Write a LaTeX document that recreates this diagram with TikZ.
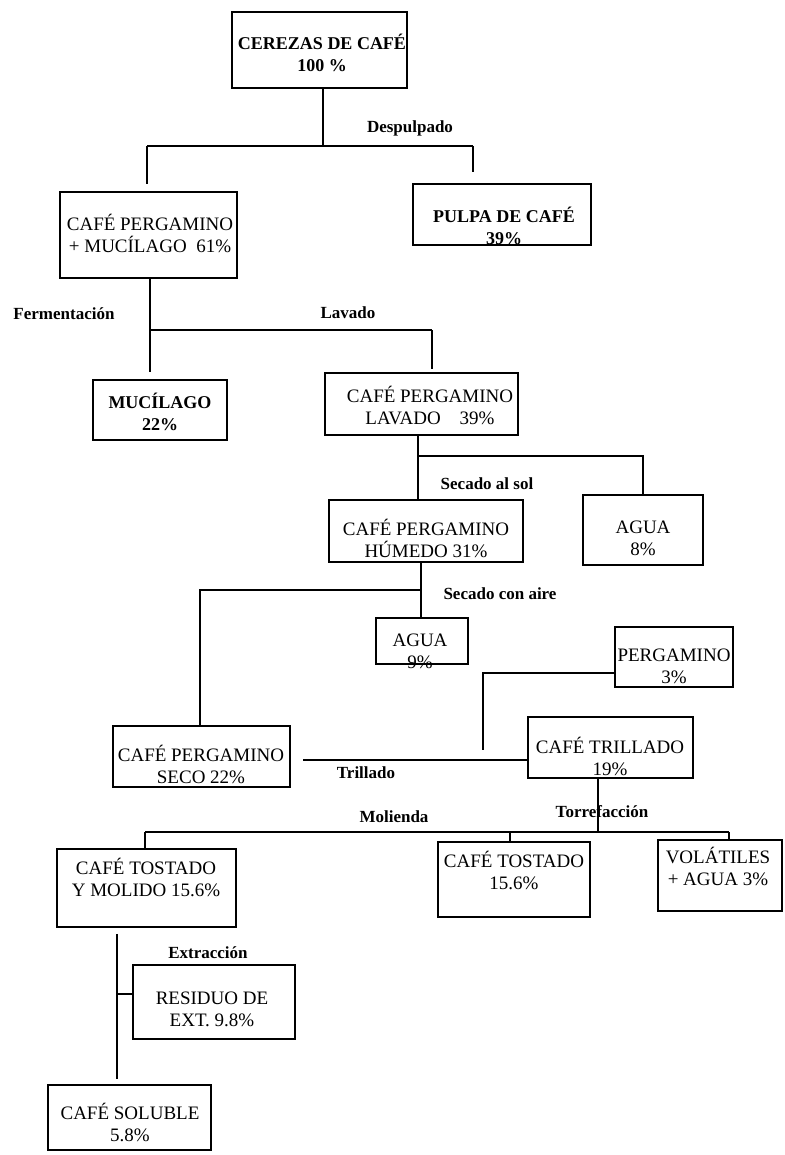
\documentclass[tikz,border=0pt]{standalone}
\usepackage{fontspec}
\setmainfont{Liberation Serif}
\tikzset{
  box/.style={draw, rectangle, line width=1.6pt, inner sep=0pt},
  txt/.style={align=center, inner sep=0pt, font=\fontsize{19}{22}\selectfont},
  btxt/.style={align=center, inner sep=0pt, font=\fontsize{18}{22}\selectfont\bfseries},
  lbl/.style={inner sep=0pt, font=\fontsize{17}{20}\selectfont\bfseries},
  conn/.style={line width=1.6pt}
}
\begin{document}
\begin{tikzpicture}[x=1pt,y=-1pt]
  % page frame
  \fill[white] (0,0) rectangle (784,1155);
  \useasboundingbox (0,0) rectangle (784,1155);

  % ---- boxes ----
  \node[box, minimum width=175pt, minimum height=76pt] (cer)   at (319.5,50)   {};
  \node[box, minimum width=177pt, minimum height=86pt] (pm)    at (148.5,235)  {};
  \node[box, minimum width=178pt, minimum height=61pt] (pulpa) at (502,214.5)  {};
  \node[box, minimum width=134pt, minimum height=60pt] (muc)   at (160,410)    {};
  \node[box, minimum width=193pt, minimum height=62pt] (lav)   at (421.5,404)  {};
  \node[box, minimum width=194pt, minimum height=62pt] (hum)   at (426,531)    {};
  \node[box, minimum width=120pt, minimum height=70pt] (ag8)   at (643,530)    {};
  \node[box, minimum width=92pt,  minimum height=46pt] (ag9)   at (422,641)    {};
  \node[box, minimum width=118pt, minimum height=60pt] (perg)  at (674,657)    {};
  \node[box, minimum width=177pt, minimum height=61pt] (seco)  at (201.5,756.5){};
  \node[box, minimum width=165pt, minimum height=61pt] (tri)   at (610.5,747.5){};
  \node[box, minimum width=179pt, minimum height=78pt] (tym)   at (146.5,888)  {};
  \node[box, minimum width=152pt, minimum height=75pt] (tos)   at (514,879.5)  {};
  \node[box, minimum width=124pt, minimum height=71pt] (vol)   at (720,875.5)  {};
  \node[box, minimum width=162pt, minimum height=74pt] (res)   at (214,1002)   {};
  \node[box, minimum width=163pt, minimum height=65pt] (sol)   at (129.5,1117.5){};

  % ---- box texts ----
  \node[btxt] (cert)   at (322,53)   {CEREZAS DE CAFÉ\\100 \%};
  \node[txt]  (pmt)    at (150,233)  {CAFÉ PERGAMINO\\+ MUCÍLAGO\ \ 61\%};
  \node[btxt] (pulpat) at (504,226)  {PULPA DE CAFÉ\\39\%};
  \node[btxt] (muct)   at (160,412)  {MUCÍLAGO\\22\%};
  \node[txt]  (lavt)   at (430,405)  {CAFÉ PERGAMINO\\LAVADO\quad 39\%};
  \node[txt]  (humt)   at (426,538)  {CAFÉ PERGAMINO\\HÚMEDO 31\%};
  \node[txt]  (ag8t)   at (643,538)  {AGUA\\8\%};
  \node[txt]  (ag9t)   at (420,651)  {AGUA\\9\%};
  \node[txt]  (pergt)  at (674,666)  {PERGAMINO\\3\%};
  \node[txt]  (secot)  at (201,764)  {CAFÉ PERGAMINO\\SECO 22\%};
  \node[txt]  (trit)   at (610,756)  {CAFÉ TRILLADO\\19\%};
  \node[txt]  (tymt)   at (146,877)  {CAFÉ TOSTADO\\Y MOLIDO 15.6\%};
  \node[txt]  (tost)   at (514,870)  {CAFÉ TOSTADO\\15.6\%};
  \node[txt]  (volt)   at (718,866)  {VOLÁTILES\\+ AGUA 3\%};
  \node[txt]  (rest)   at (212,1009) {RESIDUO DE\\EXT. 9.8\%};
  \node[txt]  (solt)   at (130,1122) {CAFÉ SOLUBLE\\5.8\%};

  % ---- process labels ----
  \node[lbl] (ldesp) at (410,128) {Despulpado};
  \node[lbl] (lferm) at (64,314)  {Fermentación};
  \node[lbl] (llav)  at (348,313) {Lavado};
  \node[lbl] (lsol)  at (487,484) {Secado al sol};
  \node[lbl] (laire) at (500,594) {Secado con aire};
  \node[lbl] (ltri)  at (366,773) {Trillado};
  \node[lbl] (lmol)  at (394,817) {Molienda};
  \node[lbl] (ltorr) at (602,812) {Torrefacción};
  \node[lbl] (lext)  at (208,953) {Extracción};

  % ---- junction points ----
  \coordinate (a1)  at (323,146);
  \coordinate (a1l) at (147,146);
  \coordinate (a1r) at (473,146);
  \coordinate (b1)  at (150,330);
  \coordinate (b1r) at (432,330);
  \coordinate (c1)  at (418,456);
  \coordinate (c1r) at (643,456);
  \coordinate (e1)  at (421,590);
  \coordinate (e1l) at (200,590);
  \coordinate (t0)  at (303,760);
  \coordinate (p1)  at (483,673);
  \coordinate (p2)  at (483,750);
  \coordinate (m0)  at (598,832);
  \coordinate (ml)  at (145,832);
  \coordinate (mm)  at (510,832);
  \coordinate (mr)  at (729,832);
  \coordinate (x1)  at (117,994);

  % ---- connectors ----
  % Despulpado
  \draw[conn] (a1 |- cer.south) -- (a1);
  \draw[conn] (a1l) -- (a1r);
  \draw[conn, shorten >=7pt]  (a1l) -- (a1l |- pm.north);
  \draw[conn, shorten >=11pt] (a1r) -- (a1r |- pulpa.north);
  % Fermentacion / Lavado
  \draw[conn] (b1 |- pm.south) -- (b1);
  \draw[conn, shorten >=7pt] (b1) -- (b1 |- muc.north);
  \draw[conn] (b1) -- (b1r);
  \draw[conn, shorten >=3pt] (b1r) -- (b1r |- lav.north);
  % Secado al sol
  \draw[conn] (c1 |- lav.south) -- (c1 |- hum.north);
  \draw[conn] (c1) -- (c1r) -- (c1r |- ag8.north);
  % Secado con aire
  \draw[conn] (e1 |- hum.south) -- (e1 |- ag9.north);
  \draw[conn] (e1) -- (e1l) -- (e1l |- seco.north);
  % Trillado
  \draw[conn] (t0) -- (t0 -| tri.west);
  \draw[conn] (p1 -| perg.west) -- (p1) -- (p2);
  % Torrefaccion / Molienda
  \draw[conn] (m0 |- tri.south) -- (m0);
  \draw[conn] (ml) -- (mr);
  \draw[conn] (ml) -- (ml |- tym.north);
  \draw[conn] (mm) -- (mm |- tos.north);
  \draw[conn] (mr) -- (mr |- vol.north);
  % Extraccion
  \draw[conn, shorten <=6pt, shorten >=5pt] (x1 |- tym.south) -- (x1 |- sol.north);
  \draw[conn] (x1) -- (x1 -| res.west);
\end{tikzpicture}
\end{document}
